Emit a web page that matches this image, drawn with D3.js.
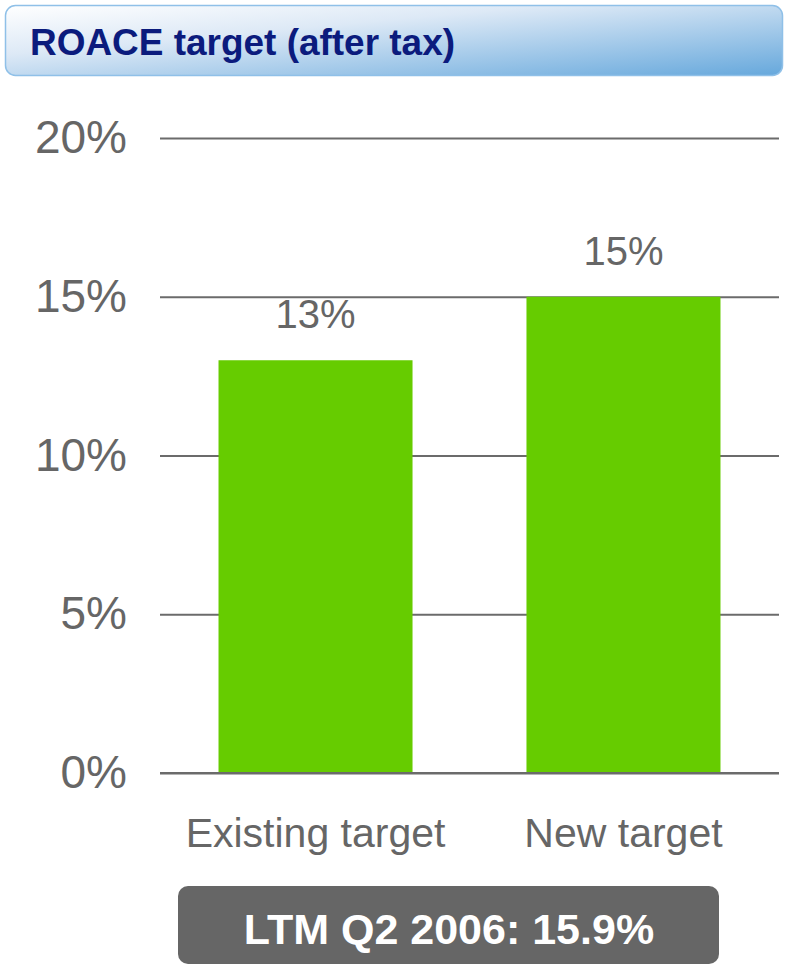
<!DOCTYPE html>
<html>
<head>
    <script src="https://d3js.org/d3.v7.min.js"></script>
    <style>
        body { margin: 0; background: #fff; }
        text { font-family: "Liberation Sans", Arial, sans-serif; }
    </style>
</head>
<body>

<script>
const categories = ['Existing target', 'New target'];
const values = [13, 15];
const tickValues = [0, 5, 10, 15, 20];
const titleText = 'ROACE target (after tax)';
const noteText = 'LTM Q2 2006: 15.9%';

const FONT = '"Liberation Sans", Arial, sans-serif';
const W = 787, H = 966;
const svg = d3.select('body')
    .append('svg')
    .attr('width', W)
    .attr('height', H);

// title box gradient
const defs = svg.append('defs');
const grad = defs.append('linearGradient')
    .attr('id', 'titleGrad')
    .attr('x1', '0%').attr('y1', '0%')
    .attr('x2', '100%').attr('y2', '100%');
grad.append('stop').attr('offset', '0%').attr('stop-color', '#ffffff');
grad.append('stop').attr('offset', '35%').attr('stop-color', '#dde9f6');
grad.append('stop').attr('offset', '100%').attr('stop-color', '#66a8dc');

svg.append('rect')
    .attr('x', 5.5).attr('y', 5.5)
    .attr('width', 777).attr('height', 70)
    .attr('rx', 10)
    .attr('fill', 'url(#titleGrad)')
    .attr('stroke', '#8fc0e8')
    .attr('stroke-width', 1.5);

svg.append('text')
    .attr('x', 30)
    .attr('y', 55)
    .attr('font-size', 37)
    .attr('font-weight', 'bold')
    .attr('fill', '#0b1b7d')
    .attr('textLength', 425)
    .attr('lengthAdjust', 'spacingAndGlyphs')
    .text(titleText);

// chart area
const margin = { top: 138, left: 160, right: 8 };
const plotH = 773 - 138;
const plotW = W - margin.left - margin.right;

const g = svg.append('g')
    .attr('transform', `translate(${margin.left},${margin.top})`);

const x = d3.scaleBand()
    .domain(categories)
    .range([0, plotW])
    .paddingInner(0.37)
    .paddingOuter(0.19);

const y = d3.scaleLinear()
    .domain([0, 20])
    .range([plotH, 0]);

const yAxis = d3.axisLeft(y)
    .tickValues(tickValues)
    .tickSize(-plotW)
    .tickPadding(33)
    .tickFormat(d => d + '%');

const ya = g.append('g').call(yAxis);
ya.select('.domain').remove();
ya.selectAll('.tick line')
    .attr('stroke', '#6b6b6b')
    .attr('stroke-width', 2);
ya.selectAll('.tick text')
    .attr('fill', '#666')
    .attr('font-size', 46)
    .attr('font-family', FONT);

g.selectAll('rect.bar')
    .data(values)
    .enter()
    .append('rect')
    .attr('class', 'bar')
    .attr('x', (d, i) => x(categories[i]))
    .attr('y', d => y(d))
    .attr('width', x.bandwidth())
    .attr('height', d => plotH - y(d))
    .attr('fill', '#66cc00');

// redraw baseline over bars
g.append('line')
    .attr('x1', 0).attr('x2', plotW)
    .attr('y1', y(0)).attr('y2', y(0))
    .attr('stroke', '#6b6b6b')
    .attr('stroke-width', 2);

g.selectAll('text.bar-label')
    .data(values)
    .enter()
    .append('text')
    .attr('class', 'bar-label')
    .attr('x', (d, i) => x(categories[i]) + x.bandwidth() / 2)
    .attr('y', d => y(d) - 32)
    .attr('text-anchor', 'middle')
    .attr('font-size', 40)
    .attr('fill', '#666')
    .text(d => d + '%');

const xAxis = d3.axisBottom(x).tickSize(0).tickPadding(45);
const xa = g.append('g')
    .attr('transform', `translate(0,${plotH})`)
    .call(xAxis);
xa.select('.domain').remove();
xa.selectAll('.tick text')
    .attr('fill', '#666')
    .attr('font-size', 41)
    .attr('font-family', FONT);

// bottom note box
svg.append('rect')
    .attr('x', 178).attr('y', 886)
    .attr('width', 541).attr('height', 78)
    .attr('rx', 10)
    .attr('fill', '#666666');

svg.append('text')
    .attr('x', 449)
    .attr('y', 944)
    .attr('text-anchor', 'middle')
    .attr('font-size', 43)
    .attr('font-weight', 'bold')
    .attr('fill', '#fff')
    .text(noteText);
</script>

</body>
</html>
